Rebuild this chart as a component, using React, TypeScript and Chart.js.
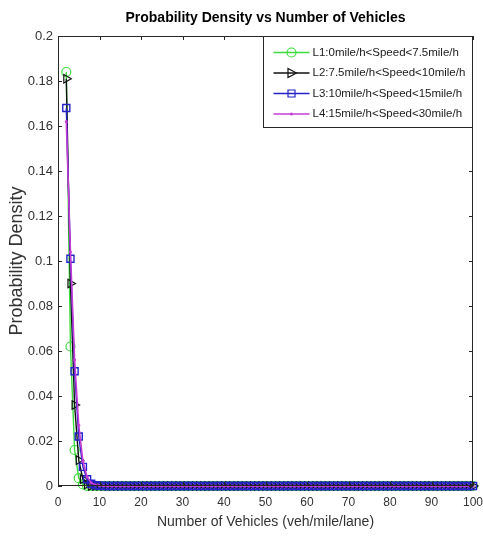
import React, { useEffect, useRef } from "react";
import { Chart, registerables } from "chart.js";

Chart.register(...registerables);

const chartTitle = "Probability Density vs Number of Vehicles";
const xAxisTitle = "Number of Vehicles (veh/mile/lane)";
const yAxisTitle = "Probability Density";

const vehicles = [
  2, 3, 4, 5, 6, 7, 8, 9, 10, 11,
  12, 13, 14, 15, 16, 17, 18, 19, 20, 21,
  22, 23, 24, 25, 26, 27, 28, 29, 30, 31,
  32, 33, 34, 35, 36, 37, 38, 39, 40, 41,
  42, 43, 44, 45, 46, 47, 48, 49, 50, 51,
  52, 53, 54, 55, 56, 57, 58, 59, 60, 61,
  62, 63, 64, 65, 66, 67, 68, 69, 70, 71,
  72, 73, 74, 75, 76, 77, 78, 79, 80, 81,
  82, 83, 84, 85, 86, 87, 88, 89, 90, 91,
  92, 93, 94, 95, 96, 97, 98, 99, 100,
];

const seriesL1 = [
  0.184, 0.062, 0.016, 0.0035, 0.0007, 0.0001, 0, 0, 0, 0,
  0, 0, 0, 0, 0, 0, 0, 0, 0, 0,
  0, 0, 0, 0, 0, 0, 0, 0, 0, 0,
  0, 0, 0, 0, 0, 0, 0, 0, 0, 0,
  0, 0, 0, 0, 0, 0, 0, 0, 0, 0,
  0, 0, 0, 0, 0, 0, 0, 0, 0, 0,
  0, 0, 0, 0, 0, 0, 0, 0, 0, 0,
  0, 0, 0, 0, 0, 0, 0, 0, 0, 0,
  0, 0, 0, 0, 0, 0, 0, 0, 0, 0,
  0, 0, 0, 0, 0, 0, 0, 0, 0,
];

const seriesL2 = [
  0.181, 0.09, 0.036, 0.0115, 0.003, 0.0007, 0.0001, 0, 0, 0,
  0, 0, 0, 0, 0, 0, 0, 0, 0, 0,
  0, 0, 0, 0, 0, 0, 0, 0, 0, 0,
  0, 0, 0, 0, 0, 0, 0, 0, 0, 0,
  0, 0, 0, 0, 0, 0, 0, 0, 0, 0,
  0, 0, 0, 0, 0, 0, 0, 0, 0, 0,
  0, 0, 0, 0, 0, 0, 0, 0, 0, 0,
  0, 0, 0, 0, 0, 0, 0, 0, 0, 0,
  0, 0, 0, 0, 0, 0, 0, 0, 0, 0,
  0, 0, 0, 0, 0, 0, 0, 0, 0,
];

const seriesL3 = [
  0.168, 0.101, 0.051, 0.022, 0.0085, 0.003, 0.001, 0.0003, 0.0001, 0,
  0, 0, 0, 0, 0, 0, 0, 0, 0, 0,
  0, 0, 0, 0, 0, 0, 0, 0, 0, 0,
  0, 0, 0, 0, 0, 0, 0, 0, 0, 0,
  0, 0, 0, 0, 0, 0, 0, 0, 0, 0,
  0, 0, 0, 0, 0, 0, 0, 0, 0, 0,
  0, 0, 0, 0, 0, 0, 0, 0, 0, 0,
  0, 0, 0, 0, 0, 0, 0, 0, 0, 0,
  0, 0, 0, 0, 0, 0, 0, 0, 0, 0,
  0, 0, 0, 0, 0, 0, 0, 0, 0,
];

const seriesL4 = [
  0.162, 0.104, 0.056, 0.027, 0.011, 0.004, 0.0015, 0.0005, 0.0002, 0.0001,
  0, 0, 0, 0, 0, 0, 0, 0, 0, 0,
  0, 0, 0, 0, 0, 0, 0, 0, 0, 0,
  0, 0, 0, 0, 0, 0, 0, 0, 0, 0,
  0, 0, 0, 0, 0, 0, 0, 0, 0, 0,
  0, 0, 0, 0, 0, 0, 0, 0, 0, 0,
  0, 0, 0, 0, 0, 0, 0, 0, 0, 0,
  0, 0, 0, 0, 0, 0, 0, 0, 0, 0,
  0, 0, 0, 0, 0, 0, 0, 0, 0, 0,
  0, 0, 0, 0, 0, 0, 0, 0, 0,
];

const seriesNames = [
  "L1:0mile/h<Speed<7.5mile/h",
  "L2:7.5mile/h<Speed<10mile/h",
  "L3:10mile/h<Speed<15mile/h",
  "L4:15mile/h<Speed<30mile/h",
];
const seriesColors = ["#3ddc3d", "#111111", "#2323c8", "#c63cd6"];
const seriesMarkers = ["circle", "triangle", "rect", "dot"];

const FONT = "'Liberation Sans', Arial, Helvetica, sans-serif";
const AXIS_COLOR = "#262626";

function drawMarker(ctx: CanvasRenderingContext2D, kind: string, x: number, y: number, color: string) {
  ctx.save();
  ctx.strokeStyle = color;
  ctx.fillStyle = color;
  ctx.lineWidth = 1.2;
  ctx.beginPath();
  if (kind === "circle") {
    ctx.arc(x, y, 4.5, 0, Math.PI * 2);
    ctx.stroke();
  } else if (kind === "triangle") {
    ctx.moveTo(x + 5, y);
    ctx.lineTo(x - 3.5, y - 4.5);
    ctx.lineTo(x - 3.5, y + 4.5);
    ctx.closePath();
    ctx.stroke();
  } else if (kind === "rect") {
    ctx.rect(x - 3.5, y - 3.5, 7, 7);
    ctx.stroke();
  } else {
    ctx.arc(x, y, 1.5, 0, Math.PI * 2);
    ctx.fill();
  }
  ctx.restore();
}

const framePlugin = {
  id: "matlabFrame",
  afterDraw(chart: any) {
    const { ctx, chartArea } = chart;
    const { left, right, top, bottom } = chartArea;
    const xs = chart.scales.x;
    const ys = chart.scales.y;
    ctx.save();
    ctx.strokeStyle = AXIS_COLOR;
    ctx.lineWidth = 1;
    const tl = 4;
    ctx.beginPath();
    xs.ticks.forEach((t: any) => {
      const px = Math.round(xs.getPixelForValue(t.value)) + 0.5;
      ctx.moveTo(px, bottom);
      ctx.lineTo(px, bottom - tl);
      ctx.moveTo(px, top);
      ctx.lineTo(px, top + tl);
    });
    ys.ticks.forEach((t: any) => {
      const py = Math.round(ys.getPixelForValue(t.value)) + 0.5;
      ctx.moveTo(left, py);
      ctx.lineTo(left + tl, py);
      ctx.moveTo(right, py);
      ctx.lineTo(right - tl, py);
    });
    ctx.stroke();

    // legend box
    const lx = 263.5;
    const ly = Math.round(top) + 0.5;
    const lw = Math.round(right) - 0.5 - lx;
    const lh = 91;
    ctx.fillStyle = "#ffffff";
    ctx.fillRect(lx, ly, lw, lh);
    ctx.strokeStyle = AXIS_COLOR;
    ctx.strokeRect(lx, ly, lw, lh);

    ctx.font = `11.5px ${FONT}`;
    ctx.textBaseline = "middle";
    ctx.textAlign = "left";
    seriesNames.forEach((name, i) => {
      const cy = ly + 16 + i * 20.5;
      ctx.strokeStyle = seriesColors[i];
      ctx.lineWidth = 1.3;
      ctx.beginPath();
      ctx.moveTo(lx + 10, cy);
      ctx.lineTo(lx + 46, cy);
      ctx.stroke();
      drawMarker(ctx, seriesMarkers[i], lx + 28, cy, seriesColors[i]);
      ctx.fillStyle = "#1a1a1a";
      ctx.fillText(name, lx + 49, cy);
    });

    // box frame
    ctx.strokeStyle = AXIS_COLOR;
    ctx.lineWidth = 1;
    ctx.strokeRect(Math.round(left) + 0.5, Math.round(top) + 0.5, Math.round(right - left) - 1, Math.round(bottom - top) - 1);
    ctx.restore();
  },
};

export default function App() {
  const canvasRef = useRef<HTMLCanvasElement | null>(null);

  useEffect(() => {
    document.body.style.margin = "0";
    const canvas = canvasRef.current;
    if (!canvas) return;

    const mk = (arr: number[]) => vehicles.map((v, i) => ({ x: v, y: arr[i] }));

    const datasets = [
      {
        label: seriesNames[0],
        data: mk(seriesL1),
        borderColor: seriesColors[0],
        backgroundColor: "rgba(0,0,0,0)",
        pointBorderColor: seriesColors[0],
        pointBackgroundColor: "rgba(0,0,0,0)",
        pointStyle: "circle",
        pointRadius: 4.5,
        pointBorderWidth: 1.2,
        borderWidth: 1.4,
        clip: false,
        order: 3,
      },
      {
        label: seriesNames[1],
        data: mk(seriesL2),
        borderColor: seriesColors[1],
        backgroundColor: "rgba(0,0,0,0)",
        pointBorderColor: seriesColors[1],
        pointBackgroundColor: "rgba(0,0,0,0)",
        pointStyle: "triangle",
        pointRotation: 90,
        pointRadius: 5,
        pointBorderWidth: 1.2,
        borderWidth: 1.4,
        clip: false,
        order: 2,
      },
      {
        label: seriesNames[2],
        data: mk(seriesL3),
        borderColor: seriesColors[2],
        backgroundColor: "rgba(0,0,0,0)",
        pointBorderColor: seriesColors[2],
        pointBackgroundColor: "rgba(0,0,0,0)",
        pointStyle: "rect",
        pointRadius: 5,
        pointBorderWidth: 1.4,
        borderWidth: 1.4,
        clip: false,
        order: 1,
      },
      {
        label: seriesNames[3],
        data: mk(seriesL4),
        borderColor: seriesColors[3],
        backgroundColor: seriesColors[3],
        pointBorderColor: seriesColors[3],
        pointBackgroundColor: seriesColors[3],
        pointStyle: "circle",
        pointRadius: 1.5,
        pointBorderWidth: 0,
        borderWidth: 1.6,
        clip: false,
        order: 0,
      },
    ];

    const chart = new Chart(canvas, {
      type: "line",
      data: { datasets },
      options: {
        animation: false,
        responsive: true,
        maintainAspectRatio: false,
        layout: { padding: { left: 0, right: 10, top: 0, bottom: 0 } },
        plugins: {
          legend: { display: false },
          tooltip: { enabled: false },
          title: {
            display: true,
            fullSize: false,
            text: chartTitle,
            color: "#000000",
            font: { family: FONT, size: 14, weight: "bold", lineHeight: 1.2 },
            padding: { top: 9.6, bottom: 9.6 },
          },
        },
        scales: {
          x: {
            type: "linear",
            min: 0,
            max: 100,
            afterFit: (s: any) => {
              s.height = 57;
              s.paddingLeft = 0;
              s.paddingRight = 0;
            },
            ticks: {
              stepSize: 10,
              color: "#333333",
              padding: 9,
              maxRotation: 0,
              font: { family: FONT, size: 12 },
            },
            grid: { display: false, drawTicks: false },
            border: { display: false },
            title: {
              display: true,
              text: xAxisTitle,
              color: "#333333",
              font: { family: FONT, size: 14, lineHeight: 1.2 },
              padding: { top: 0, bottom: 12.6 },
            },
          },
          y: {
            type: "linear",
            min: 0,
            max: 0.2,
            afterFit: (s: any) => {
              s.width = 58;
              s.paddingTop = 0;
              s.paddingBottom = 0;
            },
            ticks: {
              stepSize: 0.02,
              color: "#333333",
              padding: 5,
              font: { family: FONT, size: 13 },
              callback: (v: any) => String(Math.round(Number(v) * 100) / 100),
            },
            grid: { display: false, drawTicks: false },
            border: { display: false },
            title: {
              display: true,
              text: yAxisTitle,
              color: "#333333",
              font: { family: FONT, size: 18, lineHeight: 1.2 },
              padding: { top: 6, bottom: 0 },
            },
          },
        },
      },
      plugins: [framePlugin],
    } as any);

    return () => {
      chart.destroy();
    };
  }, []);

  return (
    <div style={{ position: "absolute", left: 0, top: 0, width: 483, height: 543, background: "#fff" }}>
      <canvas ref={canvasRef} />
    </div>
  );
}
